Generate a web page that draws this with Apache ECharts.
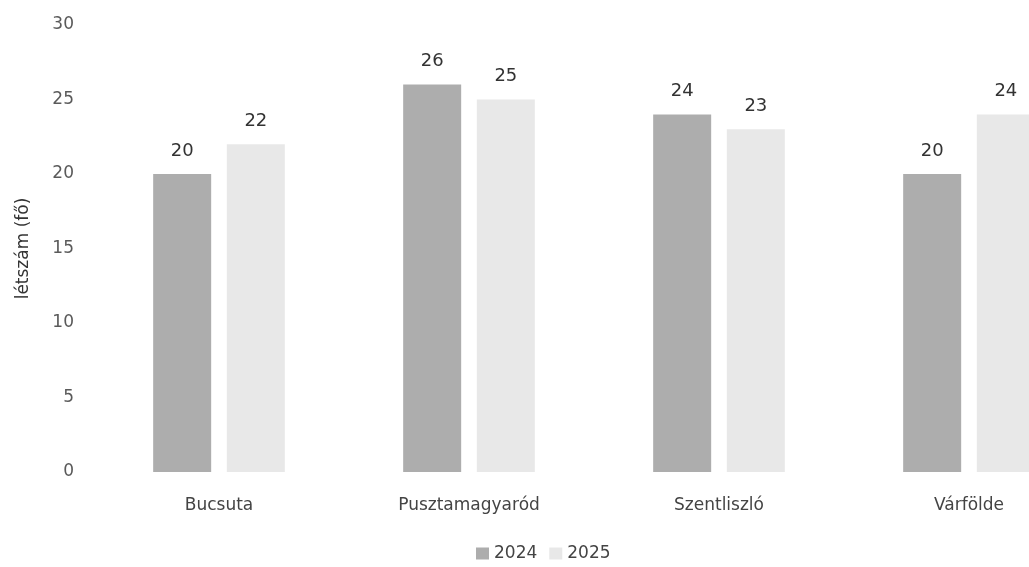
<!DOCTYPE html>
<html>
<head>
<meta charset="utf-8">
<script src="https://cdn.jsdelivr.net/npm/echarts@6/dist/echarts.min.js"></script>
<style>
  html, body { margin: 0; padding: 0; background: #fff; overflow: hidden; width: 1029px; height: 567px; }
  /* the reference crops the last bar at the right edge, so the panel is wider than the window */
  #chart-panel { width: 1094px; height: 567px; }
</style>
</head>
<body>
<div id="chart-panel"></div>
<script>
const categories = ["Bucsuta", "Pusztamagyaród", "Szentliszló", "Várfölde"]
const values2024 = [20, 26, 24, 20]
const values2025 = [22, 25, 23, 24]
const seriesNames = ["2024", "2025"]
const colors = ["#adadad", "#e8e8e8"]
const font = "DejaVu Sans"

const chart = echarts.init(document.getElementById("chart-panel"))

const mkSeries = (name, data, i) => ({
  name: name,
  type: "bar",
  data: data,
  barWidth: 58,
  barGap: "27%",
  itemStyle: { color: colors[i] },
  label: {
    show: true,
    position: "top",
    distance: 14,
    color: "#333",
    fontSize: 18,
    fontFamily: font
  }
})

const options = {
  textStyle: { fontFamily: font },
  animation: false,
  legend: {
    data: seriesNames,
    bottom: 0,
    left: 471,
    itemWidth: 13,
    itemHeight: 12,
    itemGap: 12,
    icon: "rect",
    textStyle: { color: "#444", fontSize: 17, fontFamily: font }
  },
  grid: {
    top: 25,
    bottom: 95,
    left: 94,
    right: 0
  },
  xAxis: {
    type: "category",
    data: categories,
    axisLine: { show: false },
    axisTick: { show: false },
    axisLabel: {
      margin: 25,
      color: "#444",
      fontSize: 17,
      fontFamily: font
    }
  },
  yAxis: {
    type: "value",
    min: 0,
    max: 30,
    interval: 5,
    name: "létszám (fő)",
    nameLocation: "middle",
    nameGap: 62,
    nameTextStyle: { color: "#333", fontSize: 17, fontFamily: font },
    axisLine: { show: false },
    axisTick: { show: false },
    splitLine: { show: false },
    axisLabel: {
      margin: 20,
      color: "#5a5a5a",
      fontSize: 17,
      fontFamily: font
    }
  },
  series: [
    mkSeries(seriesNames[0], values2024, 0),
    mkSeries(seriesNames[1], values2025, 1)
  ]
}
chart.setOption(options)
</script>
</body>
</html>
